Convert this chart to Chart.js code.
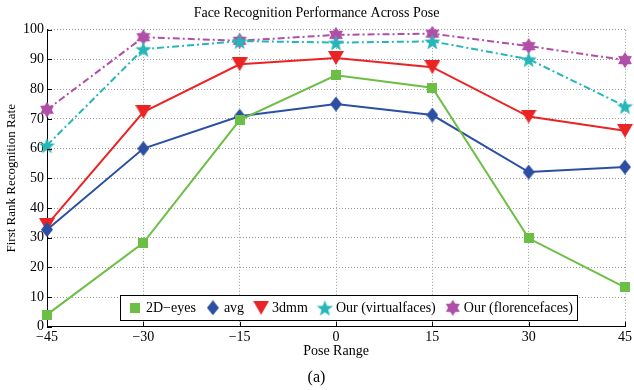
<!DOCTYPE html>
<html>
<head>
<meta charset="utf-8">
<script src="https://cdn.jsdelivr.net/npm/chart.js@4/dist/chart.umd.min.js"></script>
<style>
    html, body { margin: 0; padding: 0; background: #fff; }
    #wrap { width: 634px; height: 390px; position: relative; }
</style>
</head>
<body>
<div id="wrap"><canvas id="poseChart"></canvas></div>
<script>

const poses = [-45, -30, -15, 0, 15, 30, 45];

const eyes2d = [4.1, 28.3, 69.6, 84.7, 80.5, 29.8, 13.3];
const avg = [32.7, 60.0, 70.9, 75.0, 71.3, 52.1, 53.8];
const dmm3 = [34.3, 72.3, 88.4, 90.5, 87.4, 70.8, 66.0];
const virtualFaces = [61.1, 93.5, 96.2, 95.7, 96.1, 90.1, 74.3];
const florenceFaces = [73.1, 97.5, 96.3, 98.3, 98.7, 94.5, 89.8];

const seriesLabels = ["2D\u2212eyes", "avg", "3dmm", "Our (virtualfaces)", "Our (florencefaces)"];

const yTicks = [0, 10, 20, 30, 40, 50, 60, 70, 80, 90, 100];

const SERIF = "'Liberation Serif', 'DejaVu Serif', serif";

function makeMarker(shape, color, w, h) {

    const c = document.createElement("canvas");
    c.width = w;
    c.height = h;
    const ctx = c.getContext("2d");
    ctx.fillStyle = color;
    ctx.beginPath();

    const cx = w / 2;
    const cy = h / 2;

    if (shape === "square") {
        ctx.rect(0, 0, w, h);
    } else if (shape === "diamond") {
        ctx.moveTo(cx, 0);
        ctx.lineTo(w, cy);
        ctx.lineTo(cx, h);
        ctx.lineTo(0, cy);
    } else if (shape === "triangleDown") {
        ctx.moveTo(0, 0);
        ctx.lineTo(w, 0);
        ctx.lineTo(cx, h);
    } else {
        // star: 5 points or 6 points
        const n = shape === "star5" ? 5 : 6;
        const outer = Math.min(w, h) / 2;
        const inner = shape === "star5" ? outer * 0.42 : outer * 0.6;
        for (let i = 0; i < n * 2; i++) {
            const r = i % 2 === 0 ? outer : inner;
            const a = -Math.PI / 2 + i * Math.PI / n;
            const x = cx + r * Math.cos(a);
            const y = cy + r * Math.sin(a) + (shape === "star5" ? 1 : 0);
            if (i === 0) ctx.moveTo(x, y); else ctx.lineTo(x, y);
        }
    }

    ctx.closePath();
    ctx.fill();
    return c;

}

const colors = ["#6cbf45", "#2c4fa3", "#ea2424", "#27b6b8", "#b04fa7"];

const markers = [
    makeMarker("square", colors[0], 10, 10),
    makeMarker("diamond", colors[1], 12, 15),
    makeMarker("triangleDown", colors[2], 16, 14),
    makeMarker("star5", colors[3], 17, 17),
    makeMarker("star6", colors[4], 16, 16)
];

const seriesValues = [eyes2d, avg, dmm3, virtualFaces, florenceFaces];

const dashes = [[], [], [], [7, 3, 2, 3], [7, 3, 2, 3]];

const datasets = seriesValues.map((vals, i) => ({
    label: seriesLabels[i],
    data: poses.map((p, k) => ({ x: p, y: vals[k] })),
    borderColor: colors[i],
    backgroundColor: colors[i],
    borderWidth: 2,
    borderDash: dashes[i],
    pointStyle: markers[i],
    pointRadius: 7,
    tension: 0,
    clip: false
}));

// MATLAB style inward tick marks
const innerTicks = {
    id: "innerTicks",
    afterDatasetsDraw(chart) {
        const { ctx, chartArea, scales } = chart;
        ctx.save();
        ctx.strokeStyle = "#000";
        ctx.lineWidth = 1;
        ctx.beginPath();
        scales.x.ticks.forEach(t => {
            const x = Math.round(scales.x.getPixelForValue(t.value)) + 0.5;
            ctx.moveTo(x, chartArea.bottom);
            ctx.lineTo(x, chartArea.bottom - 5);
        });
        scales.y.ticks.forEach(t => {
            const y = Math.round(scales.y.getPixelForValue(t.value)) + 0.5;
            ctx.moveTo(chartArea.left, y);
            ctx.lineTo(chartArea.left + 5, y);
        });
        ctx.stroke();
        ctx.restore();
    }
};

// legend box drawn inside the plot, near the bottom
const boxLegend = {
    id: "boxLegend",
    afterDraw(chart) {
        const { ctx, chartArea } = chart;
        ctx.save();
        ctx.font = "14px " + SERIF;
        const widths = seriesLabels.map(t => ctx.measureText(t).width);
        const slot = 28;
        const total = widths.reduce((a, b) => a + b, 0) + slot * widths.length + 2;
        const h = 25;
        const left = chartArea.left + 73;
        const top = chartArea.bottom - 7 - h;

        ctx.fillStyle = "#fff";
        ctx.fillRect(left, top, total, h);
        ctx.strokeStyle = "#000";
        ctx.lineWidth = 1;
        ctx.strokeRect(Math.round(left) + 0.5, Math.round(top) + 0.5, Math.round(total), h);

        let x = left + 6;
        const cy = top + h / 2 + 0.5;
        ctx.textBaseline = "middle";
        ctx.fillStyle = "#000";
        seriesLabels.forEach((label, i) => {
            const m = markers[i];
            ctx.drawImage(m, x + 9 - m.width / 2, cy - m.height / 2);
            ctx.fillText(label, x + 20, cy + 1);
            x += slot + widths[i];
        });
        ctx.restore();
    }
};

new Chart(document.getElementById("poseChart"), {

    type: "line",

    data: { datasets },

    options: {

        responsive: true,
        maintainAspectRatio: false,
        animation: false,

        layout: {
            padding: { left: 0, right: 1, top: 0, bottom: 0 }
        },

        plugins: {

            legend: { display: false },

            tooltip: { enabled: false },

            title: {
                display: true,
                text: "Face Recognition Performance Across Pose",
                color: "#000",
                font: { family: SERIF, size: 14, weight: "normal" },
                padding: { top: 5, bottom: 8 }
            },

            subtitle: {
                display: true,
                position: "bottom",
                text: "(a)",
                color: "#000",
                font: { family: SERIF, size: 16, weight: "normal" },
                padding: { top: 2, bottom: 3 }
            }

        },

        scales: {

            x: {
                type: "linear",
                min: -45,
                max: 45,
                afterFit: s => { s.height = 39; },
                ticks: {
                    stepSize: 15,
                    color: "#000",
                    padding: 2,
                    maxRotation: 0,
                    font: { family: SERIF, size: 14 },
                    callback: v => String(v).replace("-", "\u2212")
                },
                grid: {
                    color: "#9a9a9a",
                    lineWidth: 1,
                    drawTicks: false
                },
                border: { color: "#000", width: 1, dash: [1, 2] },
                title: {
                    display: true,
                    text: "Pose Range",
                    color: "#000",
                    font: { family: SERIF, size: 14 },
                    padding: { top: 0, bottom: 6 }
                }
            },

            y: {
                min: 0,
                max: 100,
                afterFit: s => { s.width = 47; },
                afterBuildTicks: s => { s.ticks = yTicks.map(v => ({ value: v })); },
                ticks: {
                    color: "#000",
                    padding: 3,
                    font: { family: SERIF, size: 14 }
                },
                grid: {
                    color: "#9a9a9a",
                    lineWidth: 1,
                    drawTicks: false
                },
                border: { color: "#000", width: 1, dash: [1, 2] },
                title: {
                    display: true,
                    text: "First Rank Recognition Rate",
                    color: "#000",
                    font: { family: SERIF, size: 13 },
                    padding: { top: 4, bottom: 0 }
                }
            }

        }

    },

    plugins: [innerTicks, boxLegend]

});

</script>
</body>
</html>
